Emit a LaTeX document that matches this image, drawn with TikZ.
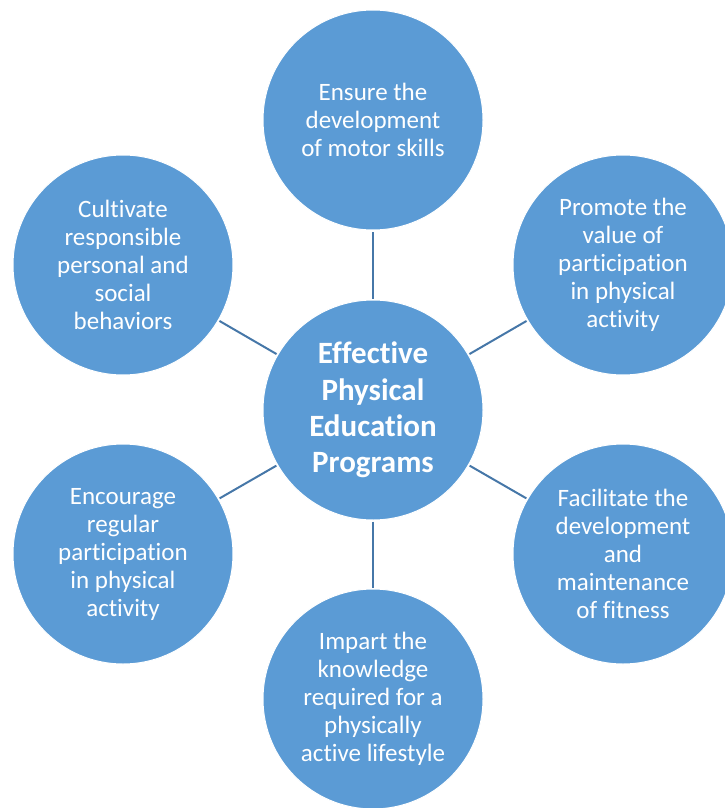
\documentclass[tikz,border=0pt]{standalone}
\usepackage{fontspec}
\setmainfont{Carlito}[Ligatures={NoCommon}]
\begin{document}
\begin{tikzpicture}[x=1pt,y=-1pt,
  bubble/.style={circle, fill=bubblefill, draw=white, line width=1pt,
    minimum size=220pt, inner sep=0pt, text=white, align=center,
    font=\fontsize{25}{28}\selectfont},
  hub/.style={bubble, font=\fontsize{31}{36.3}\selectfont\bfseries},
  link/.style={draw=linkblue, line width=2pt, shorten <=1pt, shorten >=1pt}]
\definecolor{bubblefill}{HTML}{5B9BD5}
\definecolor{linkblue}{HTML}{4677A8}
\useasboundingbox (0,0) rectangle (725,808);
\begin{scope}
\clip (0,0) rectangle (725,808);
\node[hub] (c) at (373,410) {Effective\\Physical\\Education\\Programs};
\node[bubble] (n) at (373,120) {Ensure the\\development\\of motor skills};
\node[bubble] (ne) at (623,265) {Promote the\\value of\\participation\\in physical\\activity};
\node[bubble] (se) at (623,554) {Facilitate the\\development\\and\\maintenance\\of fitness};
\node[bubble] (s) at (373,699) {Impart the\\knowledge\\required for a\\physically\\active lifestyle};
\node[bubble] (sw) at (123,554) {Encourage\\regular\\participation\\in physical\\activity};
\node[bubble] (nw) at (123,265) {Cultivate\\responsible\\personal and\\social\\behaviors};
\foreach \t in {n,ne,se,s,sw,nw}
  \draw[link] (c) -- (\t);
\end{scope}
\end{tikzpicture}
\end{document}
